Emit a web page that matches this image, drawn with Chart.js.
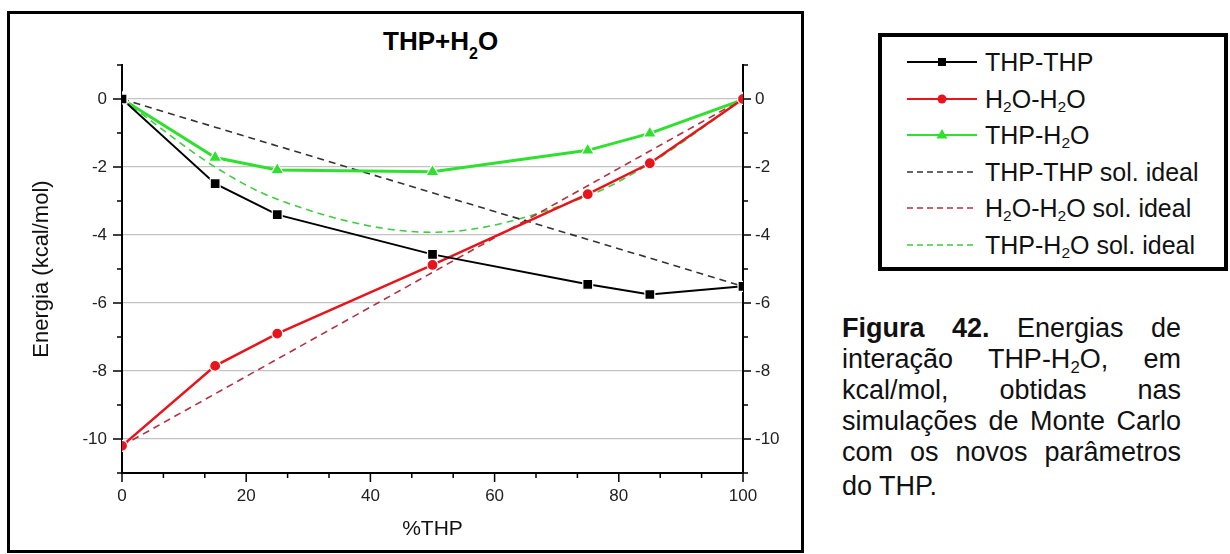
<!DOCTYPE html>
<html>
<head>
<meta charset="utf-8">
<script src="https://cdn.jsdelivr.net/npm/chart.js@4.4.1/dist/chart.umd.min.js"></script>
<style>
body{margin:0;background:#fff;font-family:"Liberation Sans",Arial,sans-serif;color:#111;width:1230px;height:554px;overflow:hidden;}
#frame{position:absolute;left:7px;top:11px;width:797px;height:542px;border:3px solid #000;box-sizing:border-box;}
#box{position:absolute;left:10px;top:14px;width:790px;height:535px;}
#title{position:absolute;left:383px;top:28px;font-weight:bold;font-size:26px;line-height:26px;white-space:nowrap;color:#000;}
#title sub{font-size:16px;line-height:0;vertical-align:baseline;position:relative;top:9px;}
#legend{position:absolute;left:878px;top:33px;width:350px;height:238px;border:4px solid #000;box-sizing:border-box;}
.row{position:absolute;left:25px;height:36px;line-height:36px;font-size:25px;white-space:nowrap;}
.row svg{position:absolute;left:0;top:8px;}
.row span{position:absolute;left:78px;top:0;}
sub{font-size:0.62em;line-height:0;vertical-align:-0.28em;}
#caption{position:absolute;left:842px;top:313px;width:339px;font-size:27px;line-height:31px;}
#caption .j{text-align:justify;text-align-last:justify;}
#caption .last{margin-top:3px;}
</style>
</head>
<body>
<div id="frame"></div>
<div id="title">THP+H<sub>2</sub>O</div>
<div id="box"><canvas id="chart"></canvas></div>
<div id="legend"></div>
<div id="caption">
  <div class="j"><b>Figura 42.</b> Energias de</div>
  <div class="j">interação THP-H<sub>2</sub>O, em</div>
  <div class="j">kcal/mol, obtidas nas</div>
  <div class="j">simulações de Monte Carlo</div>
  <div class="j">com os novos parâmetros</div>
  <div class="last">do THP.</div>
</div>
<script>
// %THP compositions
const xPct = [0, 15, 25, 50, 75, 85, 100];

// simulated energies (kcal/mol)
const thpThp = [0, -2.49, -3.40, -4.57, -5.45, -5.75, -5.51];
const h2oH2o = [-10.2, -7.85, -6.90, -4.88, -2.80, -1.89, 0];
const thpH2o = [0, -1.72, -2.09, -2.14, -1.51, -1.01, -0.02];

// ideal solution curves
const thpThpIdeal = [0, -0.83, -1.38, -2.76, -4.13, -4.68, -5.51];
const h2oH2oIdeal = [-10.2, -8.67, -7.65, -5.10, -2.55, -1.53, 0];
const thpH2oIdeal = [0, -2.0, -2.95, -3.92, -2.85, -1.9, 0];

const seriesNames = ['THP-THP', 'H2O-H2O', 'THP-H2O',
  'THP-THP sol. ideal', 'H2O-H2O sol. ideal', 'THP-H2O sol. ideal'];

const yTicksMin = -11, yTicksMax = 1;
const xTicksMin = 0, xTicksMax = 100;

const FONT = '"Liberation Sans", Arial, sans-serif';

function pts(ys){
  return xPct.map((x, i) => ({x: x, y: ys[i]}));
}

function solid(label, data, color, style, radius, width){
  return {
    label: label, data: pts(data),
    borderColor: color, backgroundColor: color,
    borderWidth: width,
    pointStyle: style, pointRadius: radius,
    pointBackgroundColor: color, pointBorderColor: '#fff', pointBorderWidth: 1.2,
    tension: 0
  };
}

function dashed(label, data, color, smooth){
  return {
    label: label, data: pts(data),
    borderColor: color, backgroundColor: color,
    borderWidth: 1.6, borderDash: [7, 5],
    pointRadius: 0,
    cubicInterpolationMode: smooth ? 'monotone' : 'default',
    tension: 0
  };
}

const isMajorY = v => Math.round(v) % 2 === 0;
const isMajorX = v => Math.abs(v / 20 - Math.round(v / 20)) < 1e-6;

// tick marks drawn outward, long for major and short for minor ticks
const tickMarks = {
  id: 'tickMarks',
  afterDraw(chart){
    const ctx = chart.ctx;
    ctx.save();
    ctx.strokeStyle = '#000';
    ctx.lineWidth = 1.5;
    ['x', 'y', 'y2'].forEach(id => {
      const s = chart.scales[id];
      s.ticks.forEach(t => {
        const p = s.getPixelForValue(t.value);
        ctx.beginPath();
        if (id === 'x'){
          const len = isMajorX(t.value) ? 9 : 5;
          ctx.moveTo(p, s.top); ctx.lineTo(p, s.top + len);
        } else if (id === 'y'){
          const len = isMajorY(t.value) ? 9 : 5;
          ctx.moveTo(s.right, p); ctx.lineTo(s.right - len, p);
        } else {
          const len = isMajorY(t.value) ? 8 : 5;
          ctx.moveTo(s.left, p); ctx.lineTo(s.left + len, p);
        }
        ctx.stroke();
      });
    });
    ctx.restore();
  }
};

const tickFont = {family: FONT, size: 17};

let configurations = {
  type: 'line',
  data: {
    datasets: [
      solid(seriesNames[0], thpThp, '#000000', 'rect', 7, 2),
      solid(seriesNames[1], h2oH2o, '#e8141b', 'circle', 5.5, 2.5),
      solid(seriesNames[2], thpH2o, '#2fe02f', 'triangle', 7.5, 3),
      dashed(seriesNames[3], thpThpIdeal, '#333333', false),
      dashed(seriesNames[4], h2oH2oIdeal, '#b5303e', false),
      dashed(seriesNames[5], thpH2oIdeal, '#3fcc3f', true)
    ]
  },
  options: {
    animation: false,
    responsive: true,
    maintainAspectRatio: false,
    layout: {padding: {left: 0, right: 0, top: 51, bottom: 0}},
    plugins: {legend: {display: false}, tooltip: {enabled: false}, title: {display: false}},
    scales: {
      x: {
        type: 'linear', min: xTicksMin, max: xTicksMax,
        afterFit: s => { s.height = 76; },
        border: {display: true, color: '#000', width: 2},
        grid: {drawOnChartArea: false, drawTicks: false},
        ticks: {
          stepSize: 20 / 3, autoSkip: false, maxRotation: 0, padding: 13,
          color: '#222', font: tickFont,
          callback: v => isMajorX(v) ? String(Math.round(v)) : ''
        },
        title: {display: true, text: '%THP', color: '#111', font: {family: FONT, size: 21}, padding: {top: 0, bottom: 7}}
      },
      y: {
        position: 'left', min: yTicksMin, max: yTicksMax,
        afterFit: s => { s.width = 112; },
        border: {display: true, color: '#000', width: 2},
        grid: {
          drawTicks: false,
          color: c => (c.tick && isMajorY(c.tick.value) && c.tick.value > yTicksMin && c.tick.value < yTicksMax) ? '#c4c4c4' : 'rgba(0,0,0,0)',
          lineWidth: 1.2
        },
        ticks: {
          stepSize: 1, autoSkip: false, padding: 15, color: '#222', font: tickFont,
          callback: v => isMajorY(v) ? String(v) : ''
        },
        title: {display: true, text: 'Energia (kcal/mol)', color: '#111', font: {family: FONT, size: 22}, padding: {top: 19, bottom: 0}}
      },
      y2: {
        position: 'right', min: yTicksMin, max: yTicksMax,
        afterFit: s => { s.width = 57; },
        border: {display: true, color: '#000', width: 2},
        grid: {drawOnChartArea: false, drawTicks: false},
        ticks: {
          stepSize: 1, autoSkip: false, padding: 12, color: '#222', font: tickFont,
          callback: v => isMajorY(v) ? String(v) : ''
        }
      }
    }
  },
  plugins: [tickMarks]
};

const chart = new Chart(document.getElementById('chart'), configurations);

// legend box built from the chart's datasets
function markerSvg(ds){
  const c = ds.borderColor;
  let s = '<svg width="72" height="20" viewBox="0 0 72 20">';
  if (ds.borderDash){
    s += '<line x1="0" y1="10" x2="70" y2="10" stroke="' + c + '" stroke-width="1.6" stroke-dasharray="6 4"/>';
  } else {
    s += '<line x1="0" y1="10" x2="70" y2="10" stroke="' + c + '" stroke-width="2"/>';
    if (ds.pointStyle === 'rect') s += '<rect x="31" y="6" width="8" height="8" fill="' + c + '"/>';
    if (ds.pointStyle === 'circle') s += '<circle cx="35" cy="10" r="4.5" fill="' + c + '"/>';
    if (ds.pointStyle === 'triangle') s += '<polygon points="35,4 40.5,13.5 29.5,13.5" fill="' + c + '"/>';
  }
  return s + '</svg>';
}

const legend = document.getElementById('legend');
chart.data.datasets.forEach((ds, i) => {
  const row = document.createElement('div');
  row.className = 'row';
  row.style.top = (7 + i * 36.6) + 'px';
  row.innerHTML = markerSvg(ds) + '<span>' + ds.label.replace(/H2O/g, 'H<sub>2</sub>O') + '</span>';
  legend.appendChild(row);
});
</script>
</body>
</html>
